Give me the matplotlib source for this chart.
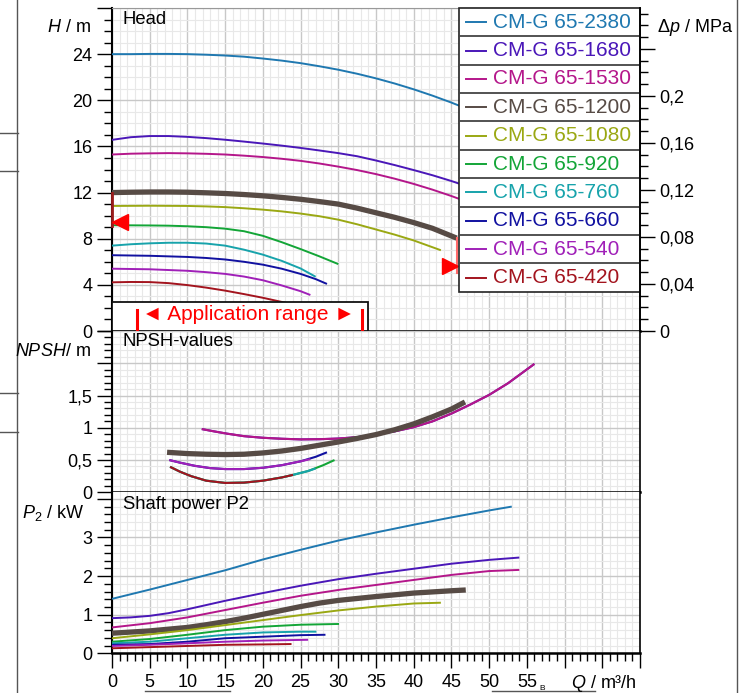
import matplotlib
matplotlib.use("Agg")
from matplotlib import pyplot as plt
from matplotlib.ticker import MultipleLocator, FixedLocator, FuncFormatter
from matplotlib.patches import Rectangle
from matplotlib.lines import Line2D

plt.rcParams['font.family'] = ['Liberation Sans', 'DejaVu Sans']
plt.rcParams['mathtext.fontset'] = 'custom'
plt.rcParams['mathtext.rm'] = 'Liberation Sans'
plt.rcParams['mathtext.it'] = 'Liberation Sans:italic'

# pump types and colours (legend order)
pumps = ["CM-G 65-2380", "CM-G 65-1680", "CM-G 65-1530", "CM-G 65-1200", "CM-G 65-1080",
         "CM-G 65-920", "CM-G 65-760", "CM-G 65-660", "CM-G 65-540", "CM-G 65-420"]
colors = ["#1f78b0", "#4a17b8", "#b4168a", "#574b45", "#9aa813",
          "#13a537", "#17a3ab", "#1111a0", "#a020b8", "#a3141e"]

# head curves, Q in m3/h, H in m
q_2380 = [0, 2.5, 5, 7.5, 10, 12.5, 15, 17.5, 20, 22.5, 25, 27.5, 30, 32.5, 35, 37.5, 40, 42.5, 45, 47.5, 50, 53]
h_2380 = [24.0, 24.0, 24.02, 24.02, 24.0, 23.95, 23.88, 23.78, 23.62, 23.44, 23.22, 22.95, 22.65, 22.3,
          21.9, 21.45, 20.95, 20.4, 19.8, 19.15, 18.45, 17.5]
q_1680 = [0, 2.5, 5, 7.5, 10, 12.5, 15, 17.5, 20, 22.5, 25, 27.5, 30, 32.5, 35, 37.5, 40, 42.5, 45, 47.5, 50, 54]
h_1680 = [16.57, 16.8, 16.9, 16.9, 16.83, 16.72, 16.58, 16.42, 16.25, 16.07, 15.87, 15.65, 15.42, 15.15,
          14.78, 14.38, 13.95, 13.5, 13.0, 12.45, 11.9, 10.9]
q_1530 = [0, 2.5, 5, 7.5, 10, 12.5, 15, 17.5, 20, 22.5, 25, 27.5, 30, 32.5, 35, 37.5, 40, 42.5, 45, 47.5, 50, 54]
h_1530 = [15.3, 15.37, 15.4, 15.42, 15.4, 15.36, 15.3, 15.2, 15.08, 14.93, 14.75, 14.52, 14.25, 13.95,
          13.6, 13.2, 12.75, 12.25, 11.7, 11.1, 10.45, 9.3]
q_1200 = [0, 2.5, 5, 7.5, 10, 12.5, 15, 17.5, 20, 22.5, 25, 27.5, 30, 32.5, 35, 37.5, 40, 42.5, 45.7]
h_1200 = [12.0, 12.03, 12.05, 12.05, 12.03, 11.98, 11.92, 11.83, 11.72, 11.58, 11.42, 11.22, 11.0, 10.65,
          10.25, 9.85, 9.4, 8.9, 8.05]
q_1080 = [0, 5, 10, 12.5, 15, 17.5, 20, 22.5, 25, 27.5, 30, 32.5, 35, 37.5, 40, 43.6]
h_1080 = [10.84, 10.86, 10.84, 10.8, 10.74, 10.64, 10.52, 10.37, 10.18, 9.95, 9.65, 9.25, 8.8, 8.35, 7.85, 7.0]
q_920 = [0, 5, 7.5, 10, 12.5, 15, 17.5, 20, 22.5, 25, 27.5, 30]
h_920 = [9.17, 9.15, 9.13, 9.08, 9.0, 8.87, 8.65, 8.25, 7.7, 7.1, 6.47, 5.8]
q_760 = [0, 2.5, 5, 7.5, 10, 12.5, 15, 17.5, 20, 22.5, 25, 27]
h_760 = [7.4, 7.52, 7.6, 7.65, 7.65, 7.58, 7.4, 7.05, 6.62, 6.08, 5.42, 4.7]
q_660 = [0, 5, 10, 12.5, 15, 17.5, 20, 22.5, 25, 27, 28.5]
h_660 = [6.57, 6.52, 6.42, 6.33, 6.2, 6.0, 5.75, 5.4, 4.95, 4.5, 4.08]
q_540 = [0, 5, 10, 12.5, 15, 17.5, 20, 22.5, 25, 26.3]
h_540 = [5.4, 5.35, 5.22, 5.1, 4.95, 4.72, 4.4, 3.95, 3.45, 3.12]
q_420 = [0, 2.5, 5, 7.5, 10, 12.5, 15, 17.5, 20, 22.5, 24]
h_420 = [4.22, 4.25, 4.24, 4.15, 3.98, 3.76, 3.5, 3.2, 2.88, 2.52, 2.3]

# NPSH curves
qn_upper = [11.9, 13.5, 15.2, 17.5, 20, 22.5, 25, 27.5, 30, 32.5, 35, 37.5, 40, 42.5, 45, 47.5, 50, 52.5, 56]
npsh_upper = [0.98, 0.945, 0.91, 0.87, 0.845, 0.83, 0.82, 0.823, 0.833, 0.855, 0.895, 0.945, 1.01, 1.1,
              1.22, 1.36, 1.51, 1.69, 1.99]
qn_1200 = [7.3, 10, 12.5, 15, 17.5, 20, 22.5, 25, 27.5, 30, 32.5, 35, 37.5, 40, 42.5, 45, 46.8]
npsh_1200 = [0.62, 0.6, 0.59, 0.585, 0.59, 0.61, 0.64, 0.68, 0.73, 0.78, 0.835, 0.895, 0.97, 1.06, 1.17,
             1.29, 1.4]
qn_660 = [7.6, 9, 11, 13, 15, 17.5, 20, 22.5, 25, 27, 28.5]
npsh_660 = [0.5, 0.46, 0.41, 0.375, 0.36, 0.36, 0.38, 0.42, 0.48, 0.55, 0.62]
qn_540 = [7.6, 9, 11, 13, 15, 17.5, 20, 22.5, 25, 26.3]
npsh_540 = [0.5, 0.46, 0.41, 0.375, 0.36, 0.36, 0.38, 0.42, 0.48, 0.515]
qn_920 = [7.7, 9, 10.5, 12.5, 15, 17.5, 20, 22.5, 24, 26, 28, 29.5]
npsh_920 = [0.395, 0.32, 0.25, 0.18, 0.145, 0.15, 0.18, 0.23, 0.27, 0.33, 0.42, 0.5]
qn_760 = [7.7, 9, 10.5, 12.5, 15, 17.5, 20, 22.5, 24, 26, 27]
npsh_760 = [0.395, 0.32, 0.25, 0.18, 0.145, 0.15, 0.18, 0.23, 0.27, 0.33, 0.37]
qn_420 = [7.7, 9, 10.5, 12.5, 15, 17.5, 20, 22.5, 24]
npsh_420 = [0.395, 0.32, 0.25, 0.18, 0.145, 0.15, 0.18, 0.23, 0.27]

# shaft power P2 in kW
qp_2380 = [0, 5, 10, 15, 20, 25, 30, 35, 40, 45, 50, 53]
p_2380 = [1.41, 1.65, 1.90, 2.15, 2.43, 2.68, 2.92, 3.13, 3.33, 3.52, 3.70, 3.80]
qp_1680 = [0, 2.5, 5, 7.5, 10, 15, 20, 25, 30, 35, 40, 45, 50, 54]
p_1680 = [0.91, 0.93, 0.97, 1.04, 1.14, 1.36, 1.56, 1.75, 1.92, 2.06, 2.19, 2.32, 2.42, 2.48]
qp_1530 = [0, 5, 10, 15, 20, 25, 30, 35, 40, 45, 50, 54]
p_1530 = [0.67, 0.78, 0.93, 1.12, 1.31, 1.49, 1.64, 1.77, 1.90, 2.03, 2.13, 2.16]
qp_1200 = [0, 5, 10, 12.5, 15, 17.5, 20, 22.5, 25, 27.5, 30, 35, 40, 45, 46.9]
p_1200 = [0.52, 0.58, 0.67, 0.74, 0.82, 0.91, 1.01, 1.11, 1.21, 1.30, 1.37, 1.47, 1.56, 1.62, 1.64]
qp_1080 = [0, 5, 10, 15, 20, 25, 30, 35, 40, 43.6]
p_1080 = [0.39, 0.49, 0.60, 0.73, 0.86, 0.99, 1.11, 1.21, 1.29, 1.31]
qp_920 = [0, 5, 10, 15, 20, 25, 30.1]
p_920 = [0.30, 0.37, 0.48, 0.60, 0.69, 0.74, 0.76]
qp_760 = [0, 5, 10, 15, 20, 25, 27.1]
p_760 = [0.26, 0.30, 0.39, 0.48, 0.54, 0.56, 0.56]
qp_660 = [0, 5, 10, 15, 20, 25, 28.3]
p_660 = [0.22, 0.24, 0.30, 0.39, 0.43, 0.47, 0.48]
qp_540 = [0, 5, 10, 15, 20, 26]
p_540 = [0.19, 0.22, 0.26, 0.30, 0.33, 0.35]
qp_420 = [0, 5, 10, 15, 20, 23.8]
p_420 = [0.13, 0.16, 0.19, 0.22, 0.23, 0.24]

head = [(q_2380, h_2380), (q_1680, h_1680), (q_1530, h_1530), (q_1200, h_1200), (q_1080, h_1080),
        (q_920, h_920), (q_760, h_760), (q_660, h_660), (q_540, h_540), (q_420, h_420)]
power = [(qp_2380, p_2380), (qp_1680, p_1680), (qp_1530, p_1530), (qp_1200, p_1200), (qp_1080, p_1080),
         (qp_920, p_920), (qp_760, p_760), (qp_660, p_660), (qp_540, p_540), (qp_420, p_420)]
# NPSH drawn in this order: (index into pumps, q, npsh)
npsh = [(1, qn_upper, npsh_upper), (2, qn_upper, npsh_upper), (3, qn_1200, npsh_1200),
        (7, qn_660, npsh_660), (8, qn_540, npsh_540),
        (5, qn_920, npsh_920), (6, qn_760, npsh_760), (9, qn_420, npsh_420)]

# application range marks of the 65-1200 curve
app_q = [0, 45.7]
app_h = [12.0, 8.05]

W, H = 749, 693
fig = plt.figure(figsize=(W / 100, H / 100), dpi=100)
left, width = 112 / W, 528 / W
ax_h = fig.add_axes([left, 1 - 331 / H, width, 323 / H])
ax_n = fig.add_axes([left, 1 - 492.3 / H, width, 161.3 / H])
ax_p = fig.add_axes([left, 1 - 653.3 / H, width, 161 / H])

TICK = 13


def comma(blank):
    def f(v, pos):
        if any(abs(v - b) < 1e-6 for b in blank):
            return ""
        return ("%g" % round(v, 3)).replace(".", ",")
    return FuncFormatter(f)


def style(ax, ymax, major, minor, blank):
    ax.set_xlim(0, 70)
    ax.set_ylim(0, ymax)
    ax.xaxis.set_major_locator(MultipleLocator(5))
    ax.xaxis.set_minor_locator(MultipleLocator(1))
    ax.yaxis.set_major_locator(MultipleLocator(major))
    ax.yaxis.set_minor_locator(MultipleLocator(minor))
    ax.yaxis.set_major_formatter(comma(blank))
    ax.grid(which="major", color="#c8c8c8", lw=1.0)
    ax.grid(which="minor", color="#e8e8e8", lw=0.8)
    ax.set_axisbelow(True)
    ax.tick_params(axis="y", which="major", direction="out", length=11, width=1, labelsize=TICK, pad=3)
    ax.tick_params(axis="y", which="minor", direction="out", length=6, width=1)
    ax.tick_params(axis="x", which="both", bottom=False, labelbottom=False)
    ax.spines["left"].set_linewidth(1.5)
    ax.spines["bottom"].set_linewidth(1.8)
    ax.spines["right"].set_linewidth(1.2)
    ax.spines["top"].set_visible(False)


style(ax_h, 28, 4, 1, [28])
style(ax_n, 2.5, 0.5, 0.1, [2.0, 2.5])
style(ax_p, 4.17, 1, 0.2, [4.0])
ax_h.spines["top"].set_visible(True)
ax_h.spines["top"].set_color("#999999")
ax_h.spines["top"].set_linewidth(0.8)

# bottom x axis
ax_p.tick_params(axis="x", which="major", bottom=True, labelbottom=True, direction="out",
                 length=11, width=1, labelsize=TICK, pad=4)
ax_p.tick_params(axis="x", which="minor", bottom=True, direction="out", length=5.5, width=1)
ax_p.xaxis.set_major_formatter(FuncFormatter(lambda v, p: "%d" % v if v <= 55 else ""))

for i, (q, h) in enumerate(head):
    ax_h.plot(q, h, color=colors[i], lw=3.8 if i == 3 else 1.4, solid_capstyle="butt", zorder=3)
for i, (q, p) in enumerate(power):
    ax_p.plot(q, p, color=colors[i], lw=3.8 if i == 3 else 1.4, solid_capstyle="butt", zorder=3)
for i, q, n in npsh:
    ax_n.plot(q, n, color=colors[i], lw=3.8 if i == 3 else 1.5, solid_capstyle="butt", zorder=3)

# operating range markers
ax_h.plot([app_q[0], app_q[0]], [app_h[0], 9.1], color="#9b1c1c", lw=2, zorder=4, clip_on=False)
ax_h.plot(app_q[0] + 1.0, 9.45, marker="<", ms=11, color="#ff0000", zorder=4)
ax_h.plot([app_q[1], app_q[1]], [app_h[1], 5.0], color="#ff6a6a", lw=1.5, zorder=4)
ax_h.plot(app_q[1] - 0.95, 5.64, marker=">", ms=11, color="#ff0000", zorder=4)

# right axis: delta p
ax_r = ax_h.twinx()
ax_r.set_ylim(0, 28 * 0.00981)
ax_r.yaxis.set_major_locator(FixedLocator([0, 0.04, 0.08, 0.12, 0.16, 0.2, 0.24]))
ax_r.yaxis.set_minor_locator(MultipleLocator(0.01))
ax_r.yaxis.set_major_formatter(comma([0.24]))
ax_r.tick_params(axis="y", which="major", direction="out", length=11, width=1, labelsize=TICK, pad=3)
ax_r.tick_params(axis="y", which="minor", direction="out", length=6, width=1)
for s in ["left", "top", "bottom"]:
    ax_r.spines[s].set_visible(False)
ax_r.spines["right"].set_linewidth(1.2)

# legend with separators
tr = ax_h.transAxes
x0 = (459.3 - 112) / 528
rowh = 28.37 / 323
ax_h.add_patch(Rectangle((x0, 1 - 10 * rowh), 1 - x0, 10 * rowh, transform=tr, facecolor="white",
                         edgecolor="#222222", lw=1.2, zorder=6, clip_on=False))
for i, name in enumerate(pumps):
    yc = 1 - (i + 0.5) * rowh
    if i > 0:
        ax_h.plot([x0, 1], [1 - i * rowh] * 2, transform=tr, color="#444444", lw=1.3, zorder=7, clip_on=False)
    ax_h.plot([(466 - 112) / 528, (486 - 112) / 528], [yc, yc], transform=tr, color=colors[i],
              lw=1.4, zorder=7, clip_on=False)
    ax_h.text((493 - 112) / 528, yc, name, transform=tr, color=colors[i], fontsize=15,
              va="center", ha="left", zorder=7)

# application range box
ax_h.add_patch(Rectangle((0, 0), (368 - 112) / 528, 29 / 323, transform=tr, facecolor="white",
                         edgecolor="#111111", lw=1.3, zorder=6))
for xb in [(136.7 - 112) / 528, (361.7 - 112) / 528]:
    ax_h.plot([xb, xb], [0, 21 / 323], transform=tr, color="#ff0000", lw=2.2, zorder=7)
ax_h.text((248 - 112) / 528, 16 / 323, "\u25c4 Application range \u25ba", transform=tr, color="#ff0000",
          fontsize=15, ha="center", va="center", zorder=7)

# panel titles
ax_h.text(11 / 528, (331 - 19) / 323, "Head", transform=tr, fontsize=13.3, va="center", zorder=5)
ax_n.text(11 / 528, 0.934, "NPSH-values", transform=ax_n.transAxes, fontsize=13.3, va="center")
ax_p.text(11 / 528, 0.927, "Shaft power P2", transform=ax_p.transAxes, fontsize=13.3, va="center")

# axis labels
fig.text(91 / W, 1 - 28 / H, r"$H$ / m", fontsize=TICK, ha="right", va="center")
fig.text(91 / W, 1 - 352 / H, r"$NPSH$/ m", fontsize=TICK, ha="right", va="center")
fig.text(84 / W, 1 - 513 / H, r"$P_2$ / kW", fontsize=TICK, ha="right", va="center")
fig.text(657 / W, 1 - 28 / H, r"$\Delta p$ / MPa", fontsize=TICK, ha="left", va="center")
fig.text(637 / W, 1 - 683 / H, r"$Q$ / m³/h", fontsize=TICK, ha="right", va="center")
fig.text(539 / W, 1 - 688 / H, "B", fontsize=6, ha="left", va="center")

# page frame remnants
fr = fig.transFigure
fig.add_artist(Line2D([17 / W] * 2, [0, 1], transform=fr, color="#555555", lw=1))
fig.add_artist(Line2D([737 / W] * 2, [0, 1], transform=fr, color="#555555", lw=1))
for yl in [133, 171, 393, 432]:
    fig.add_artist(Line2D([0, 18 / W], [1 - yl / H] * 2, transform=fr, color="#555555", lw=1))
for xa, xb in [(145, 230), (491.7, 595)]:
    fig.add_artist(Line2D([xa / W, xb / W], [1 - 691 / H] * 2, transform=fr, color="#555555", lw=1))

fig.savefig("out.png", dpi=100)
